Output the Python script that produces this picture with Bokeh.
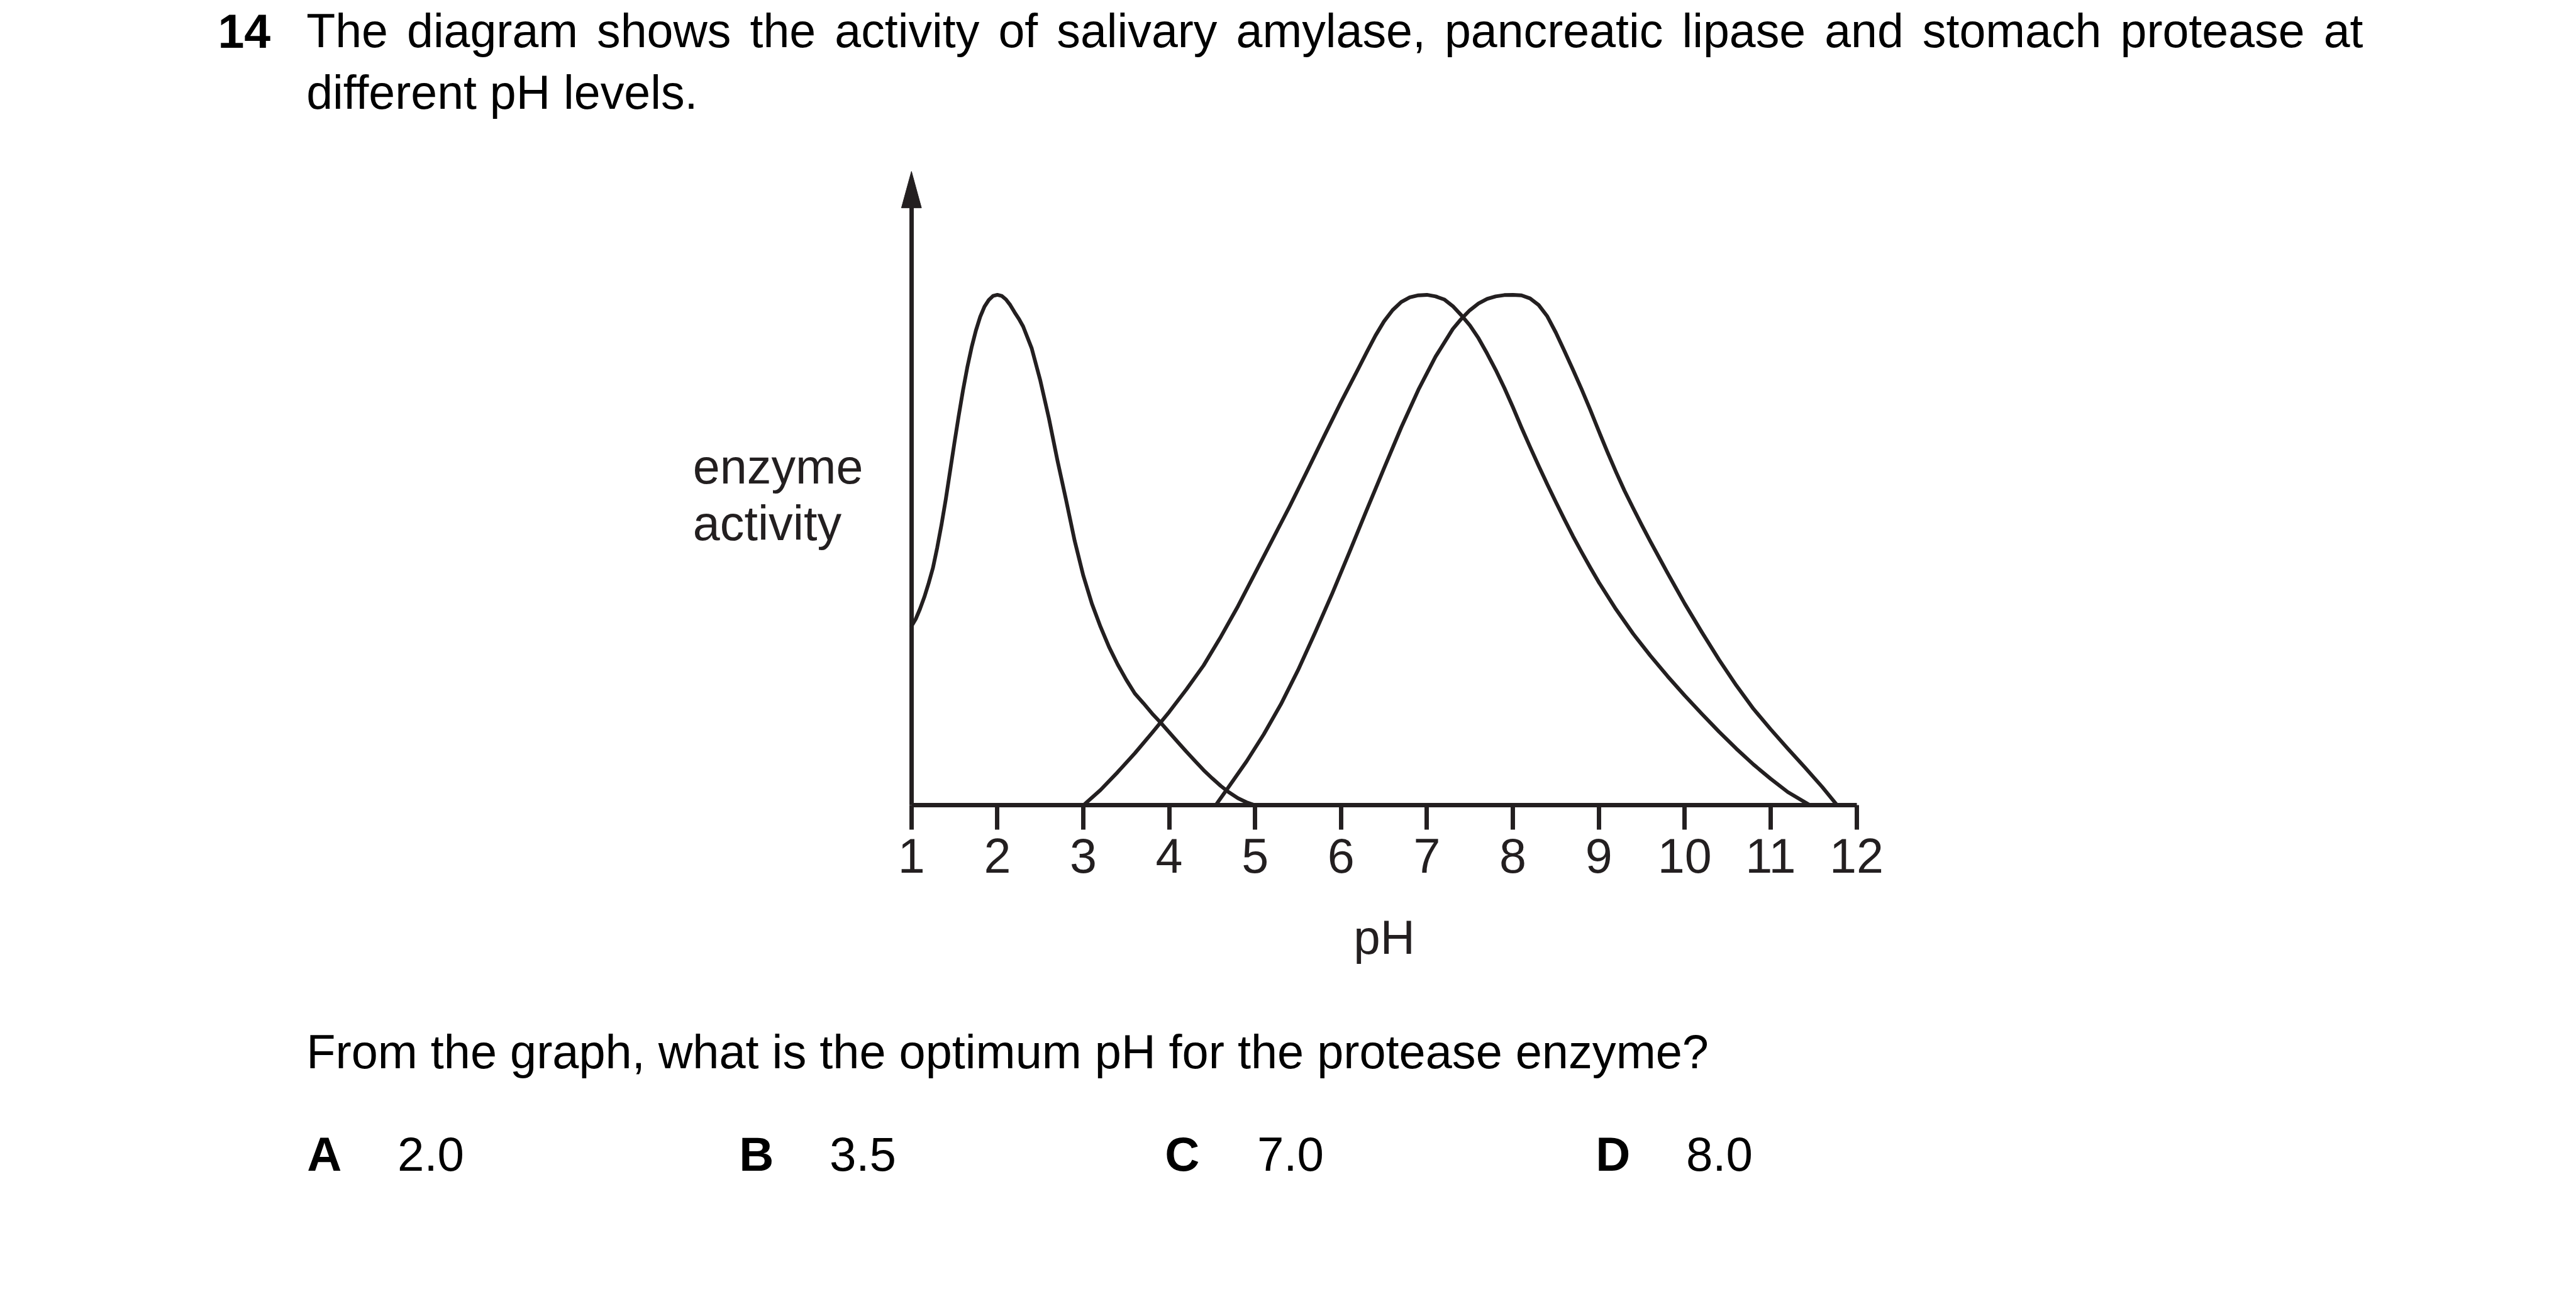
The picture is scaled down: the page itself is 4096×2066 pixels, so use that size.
from bokeh.plotting import figure
from bokeh.models import Range1d, LinearAxis, FixedTicker, Label
from bokeh.embed import file_html
from bokeh.resources import INLINE

# ---------------- data ----------------
ph_ticks = [1, 2, 3, 4, 5, 6, 7, 8, 9, 10, 11, 12]
tick_labels = ["1", "2", "3", "4", "5", "6", "7", "8", "9", "10", "11", "12"]

# curve peaking at pH 2 (stomach protease)
protease_ph = [1.00, 1.05, 1.10, 1.15, 1.20, 1.25, 1.30, 1.35, 1.40, 1.45, 1.50, 1.55, 1.60, 1.65,
               1.70, 1.75, 1.80, 1.85, 1.90, 1.95, 2.00, 2.05, 2.10, 2.15, 2.20, 2.25, 2.30, 2.40,
               2.50, 2.60, 2.70, 2.80, 2.90, 3.00, 3.10, 3.20, 3.30, 3.40, 3.50, 3.60, 3.70, 3.80,
               3.90, 4.00, 4.10, 4.20, 4.30, 4.40, 4.50, 4.60, 4.70, 4.80, 4.90, 5.00]
protease_act = [35.1, 36.5, 38.5, 40.8, 43.5, 46.5, 50.5, 55.0, 60.0, 65.5, 71.0, 76.3, 81.3, 85.8,
                89.7, 93.0, 95.7, 97.7, 99.0, 99.8, 100.0, 99.8, 99.1, 98.0, 96.6, 95.3, 93.8, 89.5,
                83.2, 75.8, 67.5, 59.8, 51.8, 45.0, 39.5, 35.0, 31.0, 27.6, 24.6, 21.9, 20.0, 18.0,
                16.2, 14.3, 12.4, 10.5, 8.7, 6.9, 5.3, 3.8, 2.5, 1.4, 0.6, 0.0]

# curve peaking at pH 7 (salivary amylase)
amylase_ph = [3.00, 3.20, 3.40, 3.60, 3.80, 4.00, 4.20, 4.40, 4.60, 4.80, 5.00, 5.20, 5.40, 5.60,
              5.80, 6.00, 6.20, 6.30, 6.40, 6.50, 6.60, 6.70, 6.80, 6.90, 7.00, 7.10, 7.20, 7.30,
              7.40, 7.50, 7.60, 7.70, 7.80, 7.90, 8.00, 8.10, 8.20, 8.30, 8.40, 8.50, 8.60, 8.70,
              8.80, 8.90, 9.00, 9.20, 9.40, 9.60, 9.80, 10.00, 10.20, 10.40, 10.60, 10.80, 11.00,
              11.20, 11.46]
amylase_act = [0.0, 3.0, 6.5, 10.2, 14.2, 18.3, 22.7, 27.4, 33.0, 39.0, 45.5, 52.0, 58.5, 65.3,
               72.2, 79.0, 85.5, 88.8, 92.0, 94.8, 97.0, 98.6, 99.5, 99.9, 100.0, 99.7, 99.1, 97.8,
               96.0, 94.0, 91.5, 88.5, 85.3, 81.8, 78.0, 74.0, 70.2, 66.5, 62.9, 59.4, 56.0, 52.7,
               49.6, 46.6, 43.7, 38.4, 33.6, 29.3, 25.3, 21.5, 17.9, 14.4, 11.1, 8.0, 5.2,
               2.6, 0.0]

# curve peaking at pH 8 (pancreatic lipase)
lipase_ph = [4.54, 4.70, 4.90, 5.10, 5.30, 5.50, 5.70, 5.90, 6.10, 6.30, 6.50, 6.70, 6.90, 7.10,
             7.30, 7.40, 7.50, 7.60, 7.70, 7.80, 7.90, 8.00, 8.10, 8.20, 8.30, 8.40, 8.50, 8.60,
             8.70, 8.80, 8.90, 9.00, 9.10, 9.20, 9.30, 9.40, 9.50, 9.60, 9.70, 9.80, 9.90, 10.00,
             10.20, 10.40, 10.60, 10.80, 11.00, 11.20, 11.40, 11.60, 11.775]
lipase_act = [0.0, 3.8, 8.6, 13.9, 19.8, 26.5, 33.9, 41.6, 49.7, 57.9, 66.0, 74.0, 81.4, 87.9,
              93.3, 95.3, 97.0, 98.3, 99.2, 99.7, 99.95, 100.0, 99.9, 99.3, 98.0, 95.8, 92.6, 89.0,
              85.3, 81.5, 77.5, 73.3, 69.2, 65.3, 61.6, 58.2, 54.9, 51.7, 48.6, 45.5, 42.5, 39.5,
              33.9, 28.5, 23.5, 18.9, 14.9, 11.1, 7.4, 3.6, 0.0]

question_number = "14"
intro_lines = ["The diagram shows the activity of salivary amylase, pancreatic lipase and stomach protease at",
               "different pH levels."]
y_label_lines = ["enzyme", "activity"]
x_label = "pH"
question = "From the graph, what is the optimum pH for the protease enzyme?"
option_letters = ["A", "B", "C", "D"]
option_values = ["2.0", "3.5", "7.0", "8.0"]

# ---------------- layout / style ----------------
S = 4096 / 4132
REF_W, REF_H = 4132, 2084
WIDTH, HEIGHT = 4096, 2066
INK = "#231f20"
FONT = "Liberation Sans"
DY = -26  # baseline correction for Label placement (reference pixels)

# chart geometry in reference pixels
X1_PX, X12_PX = 1461.5, 2977.5     # pH 1 and pH 12
Y0_PX, Y100_PX = 1291.5, 472.5     # activity 0 and 100
TIP_PX = 274.5                     # tip of the y-axis arrow
ppx = (X12_PX - X1_PX) / 11.0      # pixels per pH unit
apx = (Y0_PX - Y100_PX) / 100.0    # pixels per activity unit

x_range = Range1d(1 - X1_PX / ppx, 12 + (REF_W - X12_PX) / ppx)
y_range = Range1d(-(REF_H - Y0_PX) / apx, Y0_PX / apx)

p = figure(width=WIDTH, height=HEIGHT, x_range=x_range, y_range=y_range,
           output_backend="svg", toolbar_location=None,
           x_axis_type=None, y_axis_type=None,
           min_border=0, min_border_left=0, min_border_right=0,
           min_border_top=0, min_border_bottom=0)
p.outline_line_color = None
p.background_fill_color = "white"
p.border_fill_color = "white"

# page coordinates (reference pixels) for text placement
p.extra_x_ranges = {"page": Range1d(0, REF_W)}
p.extra_y_ranges = {"page": Range1d(REF_H, 0)}

AX_W = 7 * S
xaxis = LinearAxis(fixed_location=0, bounds=(1, 12),
                   ticker=FixedTicker(ticks=ph_ticks),
                   major_label_overrides={t: lab for t, lab in zip(ph_ticks, tick_labels)},
                   axis_line_width=AX_W, axis_line_color=INK,
                   major_tick_line_width=AX_W, major_tick_line_color=INK,
                   major_tick_in=0, major_tick_out=round(39.5 * S),
                   minor_tick_line_color=None,
                   major_label_text_font=FONT, major_label_text_font_size=f"{78 * S:.1f}px",
                   major_label_text_color=INK, major_label_standoff=14,
                   axis_label=x_label, axis_label_text_font=FONT,
                   axis_label_text_font_style="normal",
                   axis_label_text_font_size=f"{77 * S:.1f}px",
                   axis_label_text_color=INK, axis_label_standoff=57)
p.add_layout(xaxis, "below")

y_top = (Y0_PX - 287) / apx
yaxis = LinearAxis(fixed_location=1, bounds=(0, y_top),
                   ticker=FixedTicker(ticks=[]), axis_line_width=AX_W, axis_line_color=INK,
                   major_tick_line_color=None, minor_tick_line_color=None,
                   major_label_text_font_size="0px")
p.add_layout(yaxis, "left")

# arrow head at top of the y axis
p.patch([X1_PX - 16, X1_PX + 16, X1_PX], [333, 333, TIP_PX], x_range_name="page", y_range_name="page",
        fill_color=INK, line_color=INK, line_width=1, level="overlay")

LW = 6 * S
for xs, ys in [(protease_ph, protease_act), (amylase_ph, amylase_act), (lipase_ph, lipase_act)]:
    p.line(xs, ys, line_width=LW, line_color=INK, line_join="round", line_cap="round")


def add_text(txt, x, y, size, color="black", bold=False):
    p.add_layout(Label(x=x, y=y + DY, x_range_name="page", y_range_name="page", text=txt,
                       text_font=FONT, text_font_size=f"{size * S:.1f}px",
                       text_font_style="bold" if bold else "normal",
                       text_color=color, text_align="left", text_baseline="alphabetic"))


# Arial / Liberation Sans advance widths (per 1000 em) for justifying the first line
ADV = {" ": 278, ",": 278, ".": 278, "T": 611, "a": 556, "b": 556, "c": 500, "d": 556, "e": 556,
       "f": 278, "g": 556, "h": 556, "i": 222, "l": 222, "m": 833, "n": 556, "o": 556, "p": 556,
       "r": 333, "s": 500, "t": 278, "v": 500, "w": 722, "y": 500}


def word_width(w, size):
    return sum(ADV.get(ch, 556) for ch in w) * size / 1000.0


add_text(question_number, 349, 75, 76, bold=True)

# first line is justified in the reference: spread words from x=491 to x=3790
line1_words = intro_lines[0].split(" ")
fs1 = 76
natural = sum(word_width(w, fs1) for w in line1_words)
gap = (3790 - 491 - natural) / (len(line1_words) - 1)
cx = 491
for w in line1_words:
    add_text(w, cx, 75, fs1)
    cx += word_width(w, fs1) + gap
add_text(intro_lines[1], 491, 174, 76)

add_text(y_label_lines[0], 1111, 774, 78, color=INK)
add_text(y_label_lines[1], 1111, 865, 78, color=INK)
add_text(question, 491, 1713, 76.4)
letter_x = [492, 1185, 1868, 2559]
value_x = [637, 1330, 2016, 2704]
for lt, lx, vt, vx in zip(option_letters, letter_x, option_values, value_x):
    add_text(lt, lx, 1877, 77, bold=True)
    add_text(vt, vx, 1877, 77)

open("out.html", "w").write(file_html(p, INLINE))
